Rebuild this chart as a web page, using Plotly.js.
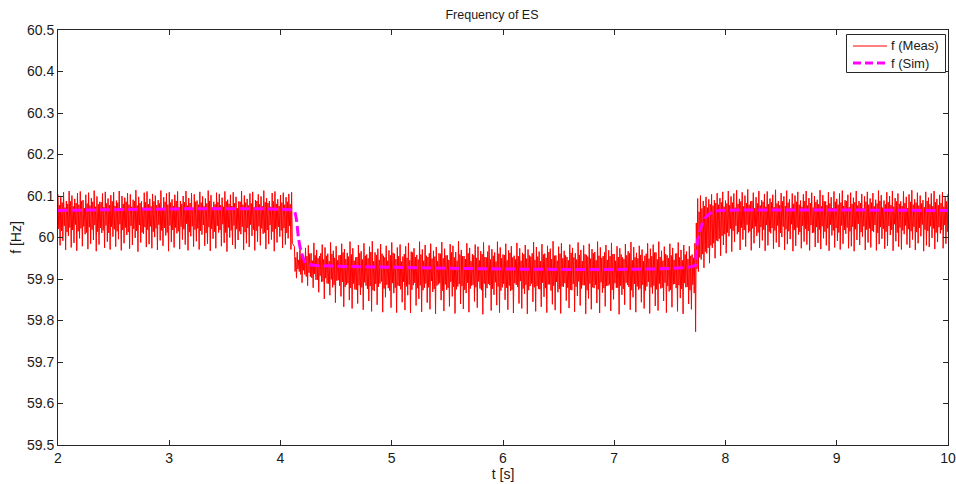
<!DOCTYPE html>
<html>
<head>
<meta charset="utf-8">
<script src="https://cdn.plot.ly/plotly-3.0.1.min.js"></script>
<style>
  html, body { margin: 0; padding: 0; background: #fff; }
  #chart { width: 956px; height: 484px; }
</style>
</head>
<body>
<div id="chart"></div>
<script>
// Measured frequency in three stretches: before the step down, the lowered
// plateau, and after the step back up. Each cycle is a swing peak/trough pair
// (big arrays) plus the smaller inner reversal between them (mid arrays).
const sampleStep = 0.00625;
const measStartA = 2.0;
const measStartB = 4.125;
const measStartC = 7.73125;

// stretch A: [peak, trough] per cycle
const measA = [
  60.104,59.981,60.097,59.992,60.109,59.970,60.088,60.004,60.112,59.976,
  60.101,59.987,60.093,59.968,60.107,59.998,60.111,59.979,60.090,60.008,
  60.103,59.972,60.108,59.985,60.095,59.994,60.113,59.967,60.099,59.983,
  60.086,60.011,60.106,59.975,60.110,59.990,60.094,59.971,60.102,60.002,
  60.109,59.978,60.089,59.996,60.112,59.969,60.100,59.986,60.096,60.006,
  60.107,59.973,60.104,59.982,60.091,59.999,60.114,59.966,60.098,59.988,
  60.087,60.009,60.108,59.977,60.111,59.984,60.093,59.974,60.105,60.001,
  60.101,59.970,60.090,59.993,60.113,59.980,60.097,60.005,60.106,59.967,
  60.109,59.989,60.092,59.976,60.103,60.010,60.111,59.972,60.088,59.995,
  60.100,59.983,60.112,59.969,60.095,60.003,60.107,59.978,60.104,59.991,
  60.089,59.971,60.110,60.007,60.099,59.980,60.094,59.985,60.113,59.968,
  60.102,59.997,60.086,59.974,60.108,60.012,60.105,59.979,60.096,59.987,
  60.111,59.966,60.091,60.000,60.103,59.982,60.109,59.973,60.098,59.994,
  60.087,60.008,60.112,59.970,60.101,59.986,60.093,59.977,60.106,60.004,
  60.110,59.969,60.090,59.990,60.104,59.981,60.099,60.009,60.113,59.972,
  60.095,59.984,60.088,59.995,60.107,59.967,60.111,59.988,60.092,60.002,
  60.102,59.975,60.108,59.983,60.097,59.998,60.105,59.971,60.109,59.986
];
// stretch A: [inner low, inner high] per cycle
const midA = [
  60.021,60.078,60.016,60.084,60.028,60.072,60.013,60.081,60.024,60.087,
  60.018,60.075,60.031,60.083,60.015,60.079,60.022,60.088,60.027,60.071,
  60.012,60.082,60.025,60.077,60.019,60.086,60.030,60.074,60.014,60.080,
  60.023,60.085,60.017,60.073,60.029,60.082,60.011,60.078,60.026,60.087,
  60.020,60.076,60.015,60.084,60.032,60.070,60.018,60.081,60.024,60.086,
  60.013,60.079,60.028,60.074,60.021,60.088,60.016,60.077,60.030,60.083,
  60.012,60.072,60.025,60.085,60.019,60.080,60.027,60.075,60.014,60.087,
  60.022,60.078,60.031,60.082,60.017,60.071,60.023,60.086,60.012,60.079,
  60.029,60.084,60.018,60.076,60.024,60.088,60.015,60.073,60.026,60.081,
  60.020,60.085,60.033,60.077,60.013,60.083,60.027,60.070,60.019,60.086,
  60.022,60.079,60.016,60.084,60.030,60.075,60.011,60.082,60.025,60.088,
  60.021,60.072,60.014,60.080,60.028,60.085,60.018,60.078,60.032,60.074,
  60.012,60.087,60.024,60.081,60.017,60.076,60.029,60.083,60.020,60.071,
  60.015,60.086,60.026,60.079,60.013,60.084,60.023,60.077,60.031,60.082,
  60.019,60.073,60.016,60.088,60.027,60.080,60.022,60.075,60.012,60.085,
  60.018,60.083,60.030,60.074,60.014,60.087,60.021,60.081,60.026,60.076,
  60.017,60.084,60.023,60.079,60.011,60.086,60.028,60.080
];

// stretch B: [peak, trough] per cycle, closing peak at the end
const measB = [
  59.978,59.902,59.965,59.918,59.984,59.891,59.958,59.911,59.975,59.884,
  59.981,59.906,59.962,59.879,59.987,59.898,59.970,59.868,59.955,59.893,
  59.983,59.852,59.976,59.889,59.961,59.861,59.988,59.880,59.968,59.843,
  59.979,59.897,59.957,59.858,59.985,59.833,59.972,59.886,59.963,59.849,
  59.990,59.829,59.974,59.875,59.952,59.841,59.982,59.862,59.967,59.826,
  59.986,59.884,59.959,59.847,59.978,59.822,59.991,59.871,59.964,59.838,
  59.973,59.889,59.984,59.820,59.956,59.856,59.980,59.878,59.969,59.831,
  59.988,59.866,59.961,59.819,59.976,59.883,59.983,59.844,59.954,59.825,
  59.979,59.861,59.987,59.818,59.966,59.885,59.974,59.836,59.958,59.852,
  59.990,59.821,59.971,59.879,59.982,59.843,59.953,59.827,59.985,59.869,
  59.968,59.816,59.977,59.887,59.962,59.849,59.989,59.823,59.973,59.874,
  59.957,59.834,59.984,59.858,59.980,59.817,59.965,59.882,59.991,59.840,
  59.970,59.828,59.955,59.866,59.986,59.820,59.975,59.884,59.960,59.846,
  59.983,59.831,59.978,59.877,59.967,59.815,59.988,59.855,59.952,59.888,
  59.981,59.824,59.972,59.862,59.964,59.837,59.990,59.819,59.976,59.880,
  59.959,59.850,59.985,59.826,59.969,59.871,59.979,59.818,59.956,59.886,
  59.987,59.841,59.974,59.829,59.963,59.864,59.982,59.816,59.971,59.883,
  59.954,59.845,59.989,59.822,59.977,59.876,59.966,59.833,59.984,59.857,
  59.961,59.819,59.980,59.887,59.973,59.839,59.991,59.825,59.957,59.868,
  59.978,59.817,59.986,59.881,59.968,59.848,59.953,59.830,59.983,59.873,
  59.975,59.821,59.962,59.859,59.988,59.836,59.970,59.885,59.981,59.816,
  59.958,59.853,59.985,59.827,59.972,59.878,59.965,59.842,59.990,59.818,
  59.976,59.867,59.955,59.834,59.982,59.884,59.969,59.823,59.987,59.851,
  59.960,59.879,59.979,59.815,59.974,59.862,59.952,59.838,59.984,59.886,
  59.967,59.826,59.989,59.856,59.977,59.820,59.963,59.874,59.980,59.844,
  59.971,59.829,59.956,59.882,59.986,59.817,59.973,59.865,59.983,59.835,
  59.964,59.824,59.990,59.877,59.968,59.847,59.978,59.819,59.957,59.870,
  59.985,59.832,59.975,59.888,59.961,59.822,59.988,59.854,59.970,59.816,
  59.982,59.880,59.966,59.840,59.979,59.827,59.959,59.866,59.986
];
const midB = [
  59.918,59.952,59.924,59.946,59.911,59.958,59.921,59.949,59.906,59.955,
  59.915,59.961,59.903,59.944,59.912,59.957,59.898,59.950,59.908,59.962,
  59.894,59.947,59.902,59.956,59.889,59.943,59.899,59.960,59.886,59.951,
  59.896,59.945,59.884,59.958,59.893,59.964,59.881,59.948,59.890,59.954,
  59.878,59.959,59.889,59.944,59.874,59.953,59.885,59.962,59.880,59.947,
  59.892,59.956,59.876,59.950,59.883,59.965,59.873,59.943,59.888,59.958,
  59.881,59.946,59.894,59.961,59.877,59.952,59.886,59.944,59.872,59.957,
  59.890,59.963,59.879,59.948,59.884,59.955,59.875,59.942,59.893,59.960,
  59.882,59.951,59.887,59.945,59.874,59.964,59.891,59.953,59.878,59.947,
  59.885,59.959,59.873,59.944,59.889,59.956,59.880,59.962,59.895,59.949,
  59.876,59.954,59.884,59.943,59.890,59.961,59.872,59.950,59.887,59.957,
  59.879,59.946,59.893,59.964,59.881,59.952,59.875,59.944,59.888,59.959,
  59.883,59.955,59.874,59.948,59.891,59.962,59.877,59.943,59.886,59.957,
  59.880,59.951,59.894,59.945,59.873,59.960,59.889,59.953,59.878,59.966,
  59.885,59.947,59.876,59.956,59.892,59.942,59.882,59.961,59.872,59.950,
  59.888,59.958,59.879,59.945,59.884,59.963,59.874,59.952,59.890,59.947,
  59.881,59.955,59.895,59.944,59.877,59.960,59.886,59.949,59.873,59.957,
  59.889,59.962,59.880,59.946,59.883,59.954,59.875,59.943,59.891,59.959,
  59.878,59.951,59.887,59.965,59.872,59.948,59.884,59.956,59.893,59.944,
  59.876,59.961,59.882,59.950,59.890,59.957,59.879,59.945,59.874,59.963,
  59.888,59.952,59.881,59.947,59.894,59.958,59.877,59.943,59.885,59.960,
  59.873,59.954,59.889,59.949,59.880,59.962,59.886,59.945,59.875,59.956,
  59.892,59.951,59.878,59.964,59.883,59.946,59.887,59.955,59.874,59.960,
  59.890,59.944,59.879,59.953,59.884,59.959,59.876,59.948,59.891,59.957,
  59.881,59.962,59.873,59.945,59.888,59.952,59.882,59.950,59.877,59.958,
  59.886,59.943,59.872,59.961,59.893,59.949,59.880,59.955,59.884,59.964,
  59.875,59.947,59.889,59.953,59.879,59.944,59.891,59.960,59.883,59.950,
  59.874,59.957,59.887,59.946,59.878,59.962,59.885,59.952,59.876,59.945,
  59.890,59.959,59.881,59.948,59.873,59.956,59.886,59.951
];

// stretch C: [trough, peak] per cycle
const measC = [
  59.773,60.094,59.918,60.101,59.947,60.088,59.927,60.098,59.962,60.092,
  59.938,60.104,59.975,60.090,59.950,60.107,59.991,60.095,59.956,60.110,
  59.982,60.089,59.962,60.112,60.003,60.099,59.966,60.106,59.989,60.114,
  60.008,60.093,59.970,60.109,59.995,60.101,59.978,60.116,60.012,60.087,
  59.969,60.108,59.986,60.097,60.004,60.112,59.975,60.090,59.993,60.105,
  59.968,60.111,59.981,60.094,60.010,60.103,59.973,60.115,59.988,60.088,
  59.977,60.107,60.001,60.099,59.970,60.113,59.984,60.092,59.996,60.106,
  59.967,60.101,59.980,60.110,60.007,60.089,59.974,60.104,59.990,60.112,
  59.983,60.095,59.969,60.108,60.011,60.100,59.977,60.091,59.987,60.114,
  59.972,60.102,59.998,60.087,59.981,60.109,59.968,60.097,60.005,60.111,
  59.976,60.093,59.992,60.106,59.971,60.113,59.985,60.090,60.009,60.103,
  59.974,60.108,59.979,60.096,59.967,60.112,59.994,60.088,59.982,60.105,
  60.002,60.099,59.970,60.110,59.988,60.094,59.976,60.107,60.013,60.091,
  59.969,60.113,59.984,60.102,59.997,60.089,59.973,60.109,59.980,60.100,
  60.006,60.112,59.968,60.095,59.991,60.106,59.978,60.087,59.971,60.111,
  60.008,60.098,59.983,60.104,59.975,60.114,59.995,60.092,59.970,60.108,
  59.986,60.101,60.003,60.090,59.967,60.110,59.981,60.096,59.977,60.106,
  59.999,60.112,59.972,60.093,59.989,60.103,60.010,60.109,59.974,60.097,
  59.985,60.105
];
const midC = [
  59.925,60.035,59.952,60.062,59.960,60.070,59.966,60.076,59.975,60.072,
  59.981,60.080,59.986,60.077,59.993,60.083,59.997,60.079,60.004,60.085,
  60.008,60.074,60.012,60.082,60.021,60.078,60.016,60.084,60.028,60.072,
  60.013,60.081,60.024,60.087,60.018,60.075,60.031,60.083,60.015,60.079,
  60.022,60.088,60.027,60.071,60.012,60.082,60.025,60.077,60.019,60.086,
  60.030,60.074,60.014,60.080,60.023,60.085,60.017,60.073,60.029,60.082,
  60.011,60.078,60.026,60.087,60.020,60.076,60.015,60.084,60.032,60.070,
  60.018,60.081,60.024,60.086,60.013,60.079,60.028,60.074,60.021,60.088,
  60.016,60.077,60.030,60.083,60.012,60.072,60.025,60.085,60.019,60.080,
  60.027,60.075,60.014,60.087,60.022,60.078,60.031,60.082,60.017,60.071,
  60.023,60.086,60.012,60.079,60.029,60.084,60.018,60.076,60.024,60.088,
  60.015,60.073,60.026,60.081,60.020,60.085,60.033,60.077,60.013,60.083,
  60.027,60.070,60.019,60.086,60.022,60.079,60.016,60.084,60.030,60.075,
  60.011,60.082,60.025,60.088,60.021,60.072,60.014,60.080,60.028,60.085,
  60.018,60.078,60.032,60.074,60.012,60.087,60.024,60.081,60.017,60.076,
  60.029,60.083,60.020,60.071,60.015,60.086,60.026,60.079,60.013,60.084,
  60.023,60.077,60.031,60.082,60.019,60.073,60.016,60.088,60.027,60.080,
  60.022,60.075,60.012,60.085,60.025,60.078,60.018,60.083,60.030,60.074,
  60.014,60.087
];

// Simulated frequency response
const simT = [2.0, 4.12, 4.13, 4.145, 4.16, 4.175, 4.19, 4.22, 4.26, 4.3, 4.35,
              7.725, 7.733, 7.74, 7.748, 7.76, 7.772, 7.795, 7.817, 7.85, 7.89, 7.95, 10.0];
const simF = [60.065, 60.065, 60.060, 60.040, 60.002, 59.978, 59.962, 59.942, 59.935, 59.933, 59.932,
              59.932, 59.946, 59.968, 59.990, 60.006, 60.018, 60.035, 60.047, 60.056, 60.062, 60.065, 60.065];

const seriesNames = ['f (Meas)', 'f (Sim)'];
const xTicks = [2, 3, 4, 5, 6, 7, 8, 9, 10];
const yTicks = [59.5, 59.6, 59.7, 59.8, 59.9, 60, 60.1, 60.2, 60.3, 60.4, 60.5];
const yTickText = ['59.5', '59.6', '59.7', '59.8', '59.9', '60', '60.1', '60.2', '60.3', '60.4', '60.5'];

// Merge a stretch's swing pairs with their inner reversals, in time order.
// peakFirst: cycle runs peak, inner low, inner high, trough;
// otherwise trough, inner high, inner low, peak.
function buildStretch(start, swings, mids, peakFirst) {
  const f = [];
  for (let k = 0; k < swings.length; k += 2) {
    f.push(swings[k]);
    if (k + 1 < swings.length) {
      if (mids[k] !== undefined && mids[k + 1] !== undefined) {
        if (peakFirst) f.push(mids[k], mids[k + 1]);
        else f.push(mids[k + 1], mids[k]);
      }
      f.push(swings[k + 1]);
    }
  }
  const t = f.map((_, i) => +(start + i * sampleStep).toFixed(5));
  return { t, f };
}

const stretchA = buildStretch(measStartA, measA, midA, true);
const stretchB = buildStretch(measStartB, measB, midB, true);
const stretchC = buildStretch(measStartC, measC, midC, false);
const measT = stretchA.t.concat(stretchB.t, stretchC.t);
const measF = stretchA.f.concat(stretchB.f, stretchC.f);

const W = 956, H = 484;
const M = { l: 58, r: 8, t: 30, b: 39 };
const plotW = W - M.l - M.r, plotH = H - M.t - M.b;
// pixel position inside the figure -> paper fraction of the plot area
const px = x => (x - M.l) / plotW;
const py = y => 1 - (y - M.t) / plotH;

const axisColor = '#262626';
const textColor = '#1a1a1a';
const fontFamily = 'Liberation Sans, Arial, Helvetica, sans-serif';
const measColor = '#ff0000';
const simColor = '#ff00ff';

const traces = [
  {
    type: 'scatter', mode: 'lines', name: seriesNames[0],
    x: measT, y: measF,
    line: { color: measColor, width: 1, simplify: false }
  },
  {
    type: 'scatter', mode: 'lines', name: seriesNames[1],
    x: simT, y: simF,
    line: { color: simColor, width: 3, dash: '10px,4px', shape: 'spline', smoothing: 0.6 }
  }
];

// Boxed key in the upper-right corner of the axes
const keyBox = { x0: 846.5, x1: 945.5, y0: 34.5, y1: 72.5 };
const keyRows = [46, 63];
const shapes = [
  { type: 'rect', xref: 'paper', yref: 'paper',
    x0: px(keyBox.x0), x1: px(keyBox.x1), y0: py(keyBox.y0), y1: py(keyBox.y1),
    line: { color: axisColor, width: 1 }, fillcolor: '#ffffff', layer: 'above' },
  { type: 'line', xref: 'paper', yref: 'paper',
    x0: px(853), x1: px(887), y0: py(keyRows[0]), y1: py(keyRows[0]),
    line: { color: measColor, width: 1 }, layer: 'above' },
  { type: 'line', xref: 'paper', yref: 'paper',
    x0: px(853), x1: px(887), y0: py(keyRows[1]), y1: py(keyRows[1]),
    line: { color: simColor, width: 3, dash: '8px,4px' }, layer: 'above' }
];
const annotations = keyRows.map((r, i) => ({
  xref: 'paper', yref: 'paper', x: px(889), y: py(r),
  xanchor: 'left', yanchor: 'middle', showarrow: false,
  text: seriesNames[i], font: { family: fontFamily, size: 13, color: textColor }
}));

const layout = {
  width: W, height: H,
  margin: M,
  paper_bgcolor: '#ffffff', plot_bgcolor: '#ffffff',
  font: { family: fontFamily, size: 14, color: textColor },
  showlegend: false,
  title: {
    text: 'Frequency of ES',
    x: px(492), xref: 'paper', xanchor: 'center',
    y: 1 - 15 / H, yref: 'container', yanchor: 'middle',
    font: { family: fontFamily, size: 12.5, color: textColor }
  },
  xaxis: {
    range: [2, 10], tickvals: xTicks, ticktext: xTicks.map(String),
    ticks: 'inside', ticklen: 5, tickwidth: 1, tickcolor: axisColor,
    showline: true, linecolor: axisColor, linewidth: 1, mirror: 'ticks',
    showgrid: false, zeroline: false,
    tickfont: { size: 14 },
    title: { text: 't [s]', font: { size: 14 }, standoff: 0 }
  },
  yaxis: {
    range: [59.5, 60.5], tickvals: yTicks, ticktext: yTickText,
    ticks: 'inside', ticklen: 5, tickwidth: 1, tickcolor: axisColor,
    showline: true, linecolor: axisColor, linewidth: 1, mirror: 'ticks',
    showgrid: false, zeroline: false,
    tickfont: { size: 14 },
    title: { text: 'f [Hz]', font: { size: 14 }, standoff: 2 }
  },
  shapes: shapes,
  annotations: annotations
};

Plotly.newPlot('chart', traces, layout, { staticPlot: true, displayModeBar: false });
</script>
</body>
</html>
